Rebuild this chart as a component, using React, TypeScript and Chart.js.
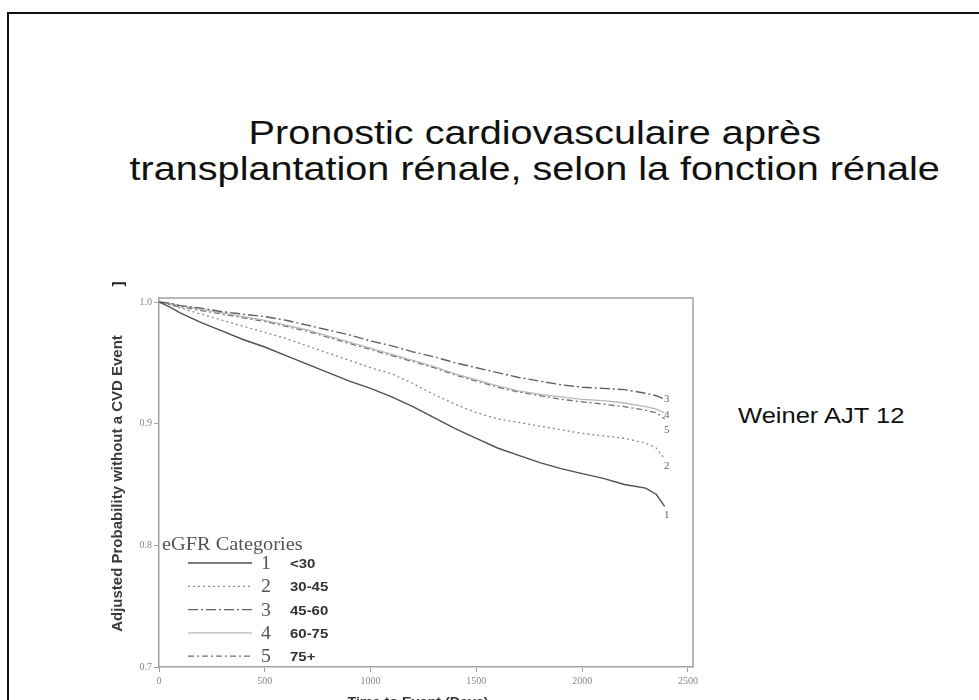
import React, { useEffect, useRef } from "react";
import { Chart, registerables } from "chart.js";

Chart.register(...registerables);

// ---- Data ----
const days = [0, 50, 100, 200, 300, 400, 500, 600, 700, 800, 900, 1000, 1100, 1200, 1300, 1400, 1500, 1600, 1700, 1800, 1900, 2000, 2100, 2200, 2300, 2350, 2390];
const cat1 = [1.0, 0.996, 0.991, 0.983, 0.976, 0.969, 0.963, 0.956, 0.949, 0.942, 0.935, 0.929, 0.922, 0.914, 0.905, 0.896, 0.888, 0.88, 0.874, 0.868, 0.863, 0.859, 0.855, 0.85, 0.847, 0.842, 0.832];
const cat2 = [1.0, 0.998, 0.995, 0.99, 0.985, 0.98, 0.975, 0.97, 0.964, 0.958, 0.952, 0.946, 0.941, 0.933, 0.924, 0.916, 0.909, 0.904, 0.901, 0.898, 0.895, 0.892, 0.89, 0.888, 0.884, 0.88, 0.871];
const cat3 = [1.0, 0.999, 0.997, 0.995, 0.992, 0.99, 0.988, 0.985, 0.981, 0.977, 0.973, 0.968, 0.964, 0.959, 0.955, 0.95, 0.946, 0.942, 0.938, 0.935, 0.932, 0.93, 0.929, 0.928, 0.925, 0.923, 0.92];
const cat4 = [1.0, 0.999, 0.997, 0.994, 0.991, 0.988, 0.985, 0.981, 0.977, 0.972, 0.967, 0.962, 0.957, 0.952, 0.947, 0.941, 0.936, 0.931, 0.927, 0.924, 0.922, 0.92, 0.919, 0.917, 0.914, 0.912, 0.909];
const cat5 = [1.0, 0.998, 0.996, 0.993, 0.99, 0.987, 0.984, 0.98, 0.976, 0.971, 0.966, 0.961, 0.956, 0.951, 0.946, 0.94, 0.935, 0.93, 0.926, 0.923, 0.92, 0.918, 0.916, 0.914, 0.911, 0.909, 0.904];
const seriesNums = ["1", "2", "3", "4", "5"];
const legendRanges = ["<30", "30-45", "45-60", "60-75", "75+"];
const endLabelValues = [0.826, 0.866, 0.921, 0.908, 0.896];
const endLabelDay = 2400;
const xTicks = [0, 500, 1000, 1500, 2000, 2500];
const yTicks = [0.7, 0.8, 0.9, 1.0];

// ---- Styles ----
const lineColors = ["#505050", "#8a8a8a", "#606060", "#b8b8b8", "#707070"];
const lineDashes: number[][] = [[], [2, 3], [10, 3, 2, 3], [], [6, 3, 2, 3]];
const lineWidths = [1.4, 1.3, 1.4, 1.3, 1.3];

const allSeries = [cat1, cat2, cat3, cat4, cat5];

function sText(ctx: CanvasRenderingContext2D, text: string, x: number, y: number, font: string, sx: number, align: CanvasTextAlign, color: string) {
  ctx.save();
  ctx.font = font;
  ctx.fillStyle = color;
  ctx.textBaseline = "alphabetic";
  ctx.translate(x, y);
  ctx.scale(sx, 1);
  ctx.textAlign = align;
  ctx.fillText(text, 0, 0);
  ctx.restore();
}

const overlayPlugin = {
  id: "overlay",
  afterDraw(chart: any) {
    const ctx: CanvasRenderingContext2D = chart.ctx;
    const { left, right, top, bottom } = chart.chartArea;
    const xs = chart.scales.x;
    const ys = chart.scales.y;
    // frame top/right
    ctx.save();
    ctx.strokeStyle = "#a0a0a0";
    ctx.lineWidth = 1.5;
    ctx.beginPath();
    ctx.moveTo(left, top);
    ctx.lineTo(right, top);
    ctx.lineTo(right, bottom);
    ctx.stroke();
    ctx.restore();

    // y title
    ctx.save();
    ctx.translate(118, (top + bottom) / 2 + 1);
    ctx.rotate(-Math.PI / 2);
    ctx.font = "bold 15px 'Liberation Sans', Arial, sans-serif";
    ctx.fillStyle = "#3a3a3a";
    ctx.textAlign = "center";
    ctx.textBaseline = "middle";
    ctx.fillText("Adjusted Probability without a CVD Event", 0, 0);
    ctx.restore();

    // cropped glyph at top-left
    ctx.save();
    ctx.translate(119, 284);
    ctx.rotate(-Math.PI / 2);
    ctx.font = "bold 15px 'Liberation Sans', Arial, sans-serif";
    ctx.fillStyle = "#222";
    ctx.textAlign = "center";
    ctx.textBaseline = "middle";
    ctx.fillText("]", 0, 0);
    ctx.restore();

    // x title (cut off by bottom edge)
    sText(ctx, "Time to Event (Days)", 418, 706, "bold 13px 'Liberation Sans', Arial, sans-serif", 1.1, "center", "#333");

    // end labels
    for (let i = 0; i < seriesNums.length; i++) {
      const px = xs.getPixelForValue(endLabelDay);
      const py = ys.getPixelForValue(endLabelValues[i]);
      sText(ctx, seriesNums[i], px, py + 4, "11px 'Liberation Serif', 'Times New Roman', serif", 1, "center", "#666");
    }

    // legend
    sText(ctx, "eGFR Categories", 162, 550, "18px 'Liberation Serif', 'Times New Roman', serif", 1.13, "left", "#555");
    for (let i = 0; i < seriesNums.length; i++) {
      const cy = 563 + i * 23.3;
      ctx.save();
      ctx.strokeStyle = lineColors[i];
      ctx.lineWidth = lineWidths[i];
      ctx.setLineDash(lineDashes[i]);
      ctx.beginPath();
      ctx.moveTo(188, cy);
      ctx.lineTo(252, cy);
      ctx.stroke();
      ctx.restore();
      sText(ctx, seriesNums[i], 266, cy + 6, "18px 'Liberation Serif', 'Times New Roman', serif", 1.1, "center", "#555");
      sText(ctx, legendRanges[i], 290, cy + 5, "bold 13px 'Liberation Sans', Arial, sans-serif", 1.15, "left", "#333");
    }
  },
};

export default function App() {
  const canvasRef = useRef<HTMLCanvasElement | null>(null);

  useEffect(() => {
    if (!canvasRef.current) return;
    const datasets = allSeries.map((vals, i) => ({
      label: seriesNums[i] + " " + legendRanges[i],
      data: days.map((d, j) => ({ x: d, y: vals[j] })),
      borderColor: lineColors[i],
      borderWidth: lineWidths[i],
      borderDash: lineDashes[i],
      pointRadius: 0,
      tension: 0,
      fill: false,
    }));
    const chart = new Chart(canvasRef.current, {
      type: "line",
      data: { datasets },
      options: {
        animation: false,
        responsive: false,
        devicePixelRatio: 1,
        layout: { padding: { left: 100, top: 298, right: 286, bottom: 0 } },
        plugins: { legend: { display: false }, tooltip: { enabled: false }, title: { display: false } },
        scales: {
          x: {
            type: "linear",
            min: 0,
            max: 2524,
            afterBuildTicks: (scale: any) => {
              scale.ticks = xTicks.map((v) => ({ value: v }));
            },
            afterFit: (scale: any) => {
              scale.height = 33;
            },
            ticks: {
              color: "#888",
              font: { family: "'Liberation Serif', 'Times New Roman', serif", size: 10 },
              padding: 3,
              maxRotation: 0,
              callback: (v: any) => String(v),
            },
            grid: { drawOnChartArea: false, drawTicks: true, tickLength: 5, color: "#a0a0a0" },
            border: { display: true, color: "#a0a0a0", width: 1.5 },
          },
          y: {
            type: "linear",
            min: 0.7,
            max: 1.0033,
            afterBuildTicks: (scale: any) => {
              scale.ticks = yTicks.map((v) => ({ value: v }));
            },
            afterFit: (scale: any) => {
              scale.width = 59;
            },
            ticks: {
              color: "#888",
              font: { family: "'Liberation Serif', 'Times New Roman', serif", size: 10 },
              padding: 2,
              callback: (v: any) => Number(v).toFixed(1),
            },
            grid: { drawOnChartArea: false, drawTicks: true, tickLength: 5, color: "#a0a0a0" },
            border: { display: true, color: "#a0a0a0", width: 1.5 },
          },
        },
      },
      plugins: [overlayPlugin],
    } as any);
    return () => chart.destroy();
  }, []);

  const titleStyle: React.CSSProperties = {
    position: "absolute",
    left: 0,
    width: 918,
    textAlign: "center",
    fontFamily: "'Liberation Sans', Arial, sans-serif",
    fontSize: 34,
    lineHeight: "36px",
    color: "#111",
    whiteSpace: "nowrap",
    transform: "scaleX(1.165)",
    transformOrigin: "0 0",
  };

  return (
    <div style={{ position: "fixed", left: 0, top: 0, width: 979, height: 700, overflow: "hidden", background: "#fff" }}>
      <div style={{ position: "absolute", left: 7, top: 12, width: 1000, height: 720, borderTop: "2px solid #111", borderLeft: "2px solid #111" }} />
      <div style={{ ...titleStyle, top: 114 }}>Pronostic cardiovasculaire après</div>
      <div style={{ ...titleStyle, top: 150 }}>transplantation rénale, selon la fonction rénale</div>
      <div
        style={{
          position: "absolute",
          left: 738,
          top: 403,
          fontFamily: "'Liberation Sans', Arial, sans-serif",
          fontSize: 22,
          lineHeight: "26px",
          color: "#111",
          whiteSpace: "nowrap",
          transform: "scaleX(1.16)",
          transformOrigin: "0 0",
        }}
      >
        Weiner AJT 12
      </div>
      <canvas ref={canvasRef} width={979} height={700} style={{ position: "absolute", left: 0, top: 0, width: 979, height: 700 }} />
    </div>
  );
}
